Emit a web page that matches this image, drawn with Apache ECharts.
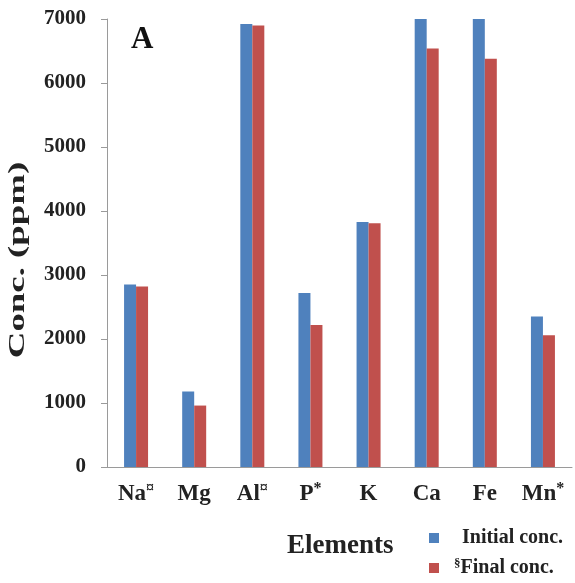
<!DOCTYPE html>
<html>
<head>
<meta charset="utf-8">
<script src="https://cdn.jsdelivr.net/npm/echarts@6/dist/echarts.min.js"></script>
<style>
  html, body { margin: 0; padding: 0; background: #fff; }
  #chart { width: 575px; height: 583px; }
</style>
</head>
<body>
<div id="chart"></div>
<script>
// data
var elements = ['Na', 'Mg', 'Al', 'P', 'K', 'Ca', 'Fe', 'Mn'];
var marks = ['\u00a4', '', '\u00a4', '*', '', '', '', '*'];
var initialConc = [2850, 1180, 6920, 2720, 3830, 7000, 7000, 2350];
var finalConc = [2820, 960, 6900, 2220, 3810, 6540, 6380, 2060];
var yTicks = [0, 1000, 2000, 3000, 4000, 5000, 6000, 7000];

var serif = 'Liberation Serif';
var dom = document.getElementById('chart');
var myChart = echarts.init(dom);

var legendRich = {
  t: { fontFamily: serif, fontWeight: 'bold', fontSize: 20, color: '#222', lineHeight: 22 },
  s: { fontFamily: serif, fontWeight: 'bold', fontSize: 13, color: '#222', lineHeight: 13, verticalAlign: 'top' }
};

var option = {
  animation: false,
  backgroundColor: '#fff',
  textStyle: { fontFamily: serif },
  grid: { left: 107, right: 3, top: 19, bottom: 116, outerBoundsMode: 'none' },
  legend: [
    {
      left: 424, top: 523,
      itemWidth: 10, itemHeight: 10, icon: 'rect',
      data: ['Initial conc.'],
      formatter: function () { return '{t|Initial conc.}'; },
      textStyle: { padding: [0, 0, 0, 18], rich: legendRich }
    },
    {
      left: 424, top: 552,
      itemWidth: 10, itemHeight: 10, icon: 'rect',
      data: ['Final conc.'],
      formatter: function () { return '{s|\u00a7}{t|Final conc.}'; },
      textStyle: { padding: [0, 0, 0, 10], rich: legendRich }
    }
  ],
  graphic: [
    {
      type: 'text', left: 131, top: 24,
      style: { text: 'A', font: 'bold 31px "Liberation Serif"', fill: '#111' }
    },
    {
      type: 'text', left: 287, top: 533,
      style: { text: 'Elements', font: 'bold 27px "Liberation Serif"', fill: '#222' }
    },
    {
      // y axis title, stretched along its length like the source figure
      type: 'text', x: 18, y: 260, rotation: Math.PI / 2, scaleX: 1.6,
      style: {
        text: 'Conc. (ppm)', font: 'bold 23px "Liberation Serif"', fill: '#222',
        align: 'center', verticalAlign: 'middle'
      }
    }
  ],
  xAxis: {
    type: 'category',
    data: elements,
    axisLine: { lineStyle: { color: '#9a9a9a', width: 1 } },
    axisTick: { show: false },
    axisLabel: {
      margin: 14,
      interval: 0,
      formatter: function (v, i) {
        var m = marks[i];
        return m ? '{b|' + v + '}{s|' + m + '}' : '{b|' + v + '}';
      },
      rich: {
        b: { fontFamily: serif, fontWeight: 'bold', fontSize: 23, color: '#222', lineHeight: 26 },
        s: { fontFamily: serif, fontWeight: 'bold', fontSize: 16, color: '#222', lineHeight: 16, verticalAlign: 'top' }
      }
    }
  },
  yAxis: {
    type: 'value',
    min: 0,
    max: 7000,
    interval: 1000,
    axisLine: { show: true, lineStyle: { color: '#9a9a9a', width: 1 } },
    axisTick: { show: true, length: 6, lineStyle: { color: '#9a9a9a' } },
    splitLine: { show: false },
    axisLabel: {
      margin: 21,
      fontFamily: serif,
      fontWeight: 'bold',
      fontSize: 21,
      color: '#222',
      formatter: function (v) { return yTicks.indexOf(v) >= 0 ? String(v) : ''; }
    }
  },
  series: [
    {
      name: 'Initial conc.',
      type: 'bar',
      data: initialConc,
      barWidth: 12,
      barGap: '0%',
      itemStyle: { color: '#4F81BD' }
    },
    {
      name: 'Final conc.',
      type: 'bar',
      data: finalConc,
      barWidth: 12,
      itemStyle: { color: '#C0504D' }
    }
  ]
};

if (option && typeof option === 'object') {
  myChart.setOption(option);
}
</script>
</body>
</html>
